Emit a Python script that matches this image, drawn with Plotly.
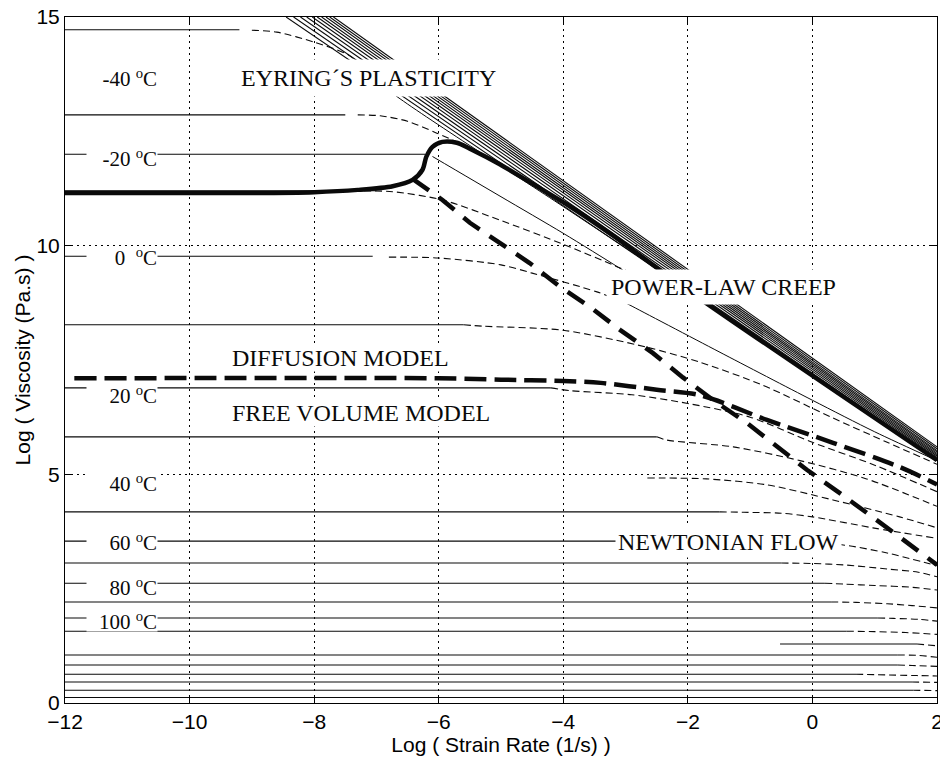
import plotly.graph_objects as go

# ---------------- data ----------------
x_ticks = [-12, -10, -8, -6, -4, -2, 0, 2]
y_ticks = [0, 5, 10, 15]

# Newtonian plateaus (log viscosity) and the log strain rate where the solid plateau stops
plateau_level = [14.72, 12.86, 12.00, 11.20, 9.77, 8.27, 6.89, 5.82, 4.18, 3.54, 3.06,
                 2.62, 2.21, 1.86, 1.57, 1.05, 0.83, 0.63, 0.46, 0.28, 0.12]
plateau_end = [-9.2, -7.5, -6.22, -7.0, -7.06, -5.6, -4.2, -2.5, -1.49, -1.0, -0.5,
               0.2, 0.3, 1.05, 0.55, 1.37, 1.37, 0.7, 1.6, 1.62, 2.0]

# short plateau piece seen only at the right
partial_x = [-0.52, 1.68]
partial_y = [1.29, 1.29]

# dashed shear-thinning branches
b1_x = [-9.0, -8.6, -8.0, -7.45, -7.1]
b1_y = [14.71, 14.67, 14.45, 14.17, 13.75]
b2_x = [-7.3, -6.94, -6.5, -6.03, -5.6, -5.2]
b2_y = [12.86, 12.84, 12.72, 12.46, 12.2, 11.9]
b4_x = [-7.2, -6.74, -5.94, -5.02, -4.0, -3.12, -2.7]
b4_y = [11.2, 11.18, 11.0, 10.56, 10.03, 9.53, 9.28]
b5_x = [-6.8, -6.0, -5.0, -4.5, -3.46, -3.0]
b5_y = [9.75, 9.73, 9.58, 9.4, 8.99, 8.75]
b6_x = [-5.6, -5.3, -4.0, -2.66, -1.8, -0.8, 0.3, 1.2, 2.0]
b6_y = [8.27, 8.24, 8.15, 7.78, 7.45, 6.95, 6.25, 5.7, 5.22]
b7_x = [-4.2, -3.9, -2.9, -2.0, -1.0, 0.0, 1.0, 2.0]
b7_y = [6.89, 6.83, 6.74, 6.55, 6.25, 5.7, 5.2, 4.62]
b8_x = [-2.5, -2.34, -1.27, -0.2, 0.87, 2.0]
b8_y = [5.82, 5.75, 5.6, 5.3, 4.9, 4.3]
b9_x = [-2.65, -1.7, -0.73, 0.33, 1.4, 2.0]
b9_y = [4.92, 4.9, 4.77, 4.44, 4.07, 3.83]
b10_x = [-1.49, -1.1, -0.5, 0.0, 0.97, 2.0]
b10_y = [4.18, 4.17, 4.15, 4.07, 3.83, 3.6]
b11_x = [-1.0, 0.0, 0.52, 1.2, 2.0]
b11_y = [3.54, 3.5, 3.45, 3.28, 3.0]
b12_x = [-0.5, 0.0, 0.5, 1.2, 1.7, 2.0]
b12_y = [3.06, 3.05, 3.02, 2.93, 2.86, 2.76]
b13_x = [0.2, 0.5, 1.0, 1.6, 2.0]
b13_y = [2.62, 2.6, 2.57, 2.53, 2.47]
b14_x = [0.3, 0.7, 1.2, 1.6, 2.0]
b14_y = [2.21, 2.2, 2.17, 2.13, 2.08]
b15_x = [1.05, 1.3, 1.7, 2.0]
b15_y = [1.86, 1.85, 1.83, 1.79]
b16_x = [0.55, 1.0, 1.5, 2.0]
b16_y = [1.57, 1.56, 1.54, 1.5]
b17_x = [1.68, 2.0]
b17_y = [1.29, 1.25]
b18_x = [1.37, 1.7, 2.0]
b18_y = [1.05, 1.04, 1.0]
b19_x = [1.37, 1.6, 2.0]
b19_y = [0.83, 0.82, 0.8]
b20_x = [0.7, 1.68, 2.0]
b20_y = [0.63, 0.6, 0.59]
b21_x = [1.6, 2.0]
b21_y = [0.46, 0.45]
b22_x = [1.62, 2.0]
b22_y = [0.28, 0.27]

# thin solid branches
t1_x = [-7.1, -6.71, -3.94, -2.56, 2.0]
t1_y = [13.75, 13.3, 10.8, 9.55, 5.3]
t3_x = [-6.1, -5.0, -4.0, -3.12, -2.8]
t3_y = [11.95, 11.07, 10.27, 9.53, 9.25]
t5_x = [-3.0, -2.93, -1.5, 0.0, 1.0, 2.0]
t5_y = [8.75, 8.70, 7.68, 6.62, 5.93, 5.3]

# Eyring asymptote bundle: x where each line leaves log(visc)=15, log(visc) at x=2
bundle_x_top = [-8.45, -8.33, -8.22, -8.12, -8.03, -7.95, -7.88, -7.81, -7.75, -7.69]
bundle_y_end = [5.31, 5.34, 5.37, 5.40, 5.43, 5.46, 5.49, 5.52, 5.56, 5.60]

# thick solid curve
thick_x = [-12, -9, -8, -7.3, -6.74, -6.42, -6.26, -6.2, -6.1, -5.94, -5.71, -5.5,
           -5.02, -4.49, -3.94, -3.2, -2.56, -1.7, 2.0]
thick_y = [11.15, 11.15, 11.17, 11.22, 11.3, 11.44, 11.66, 11.94, 12.16, 12.27, 12.25, 12.12,
           11.78, 11.35, 10.9, 10.22, 9.58, 8.74, 5.31]

# thick dashed curves
dashA_x = [-6.42, -5.94, -5.5, -5.02, -4.54, -4.05, -3.57, -3.09, -2.56, -2.08, -1.6,
           -1.05, -0.57, -0.09, 0.44, 0.92, 1.4, 2.0]
dashA_y = [11.46, 11.0, 10.5, 10.06, 9.62, 9.1, 8.66, 8.16, 7.65, 7.12, 6.63,
           6.12, 5.6, 5.1, 4.59, 4.12, 3.63, 3.02]
dashB_x = [-11.85, -6.0, -5.0, -4.0, -3.4, -2.5, -1.8, -0.73, 0.33, 1.4, 2.0]
dashB_y = [7.1, 7.1, 7.07, 7.04, 7.0, 6.85, 6.73, 6.19, 5.69, 5.16, 4.78]

# labels
temp_text = ["-40 <sup>o</sup>C", "-20 <sup>o</sup>C", "0\u00a0\u00a0<sup>o</sup>C", "20 <sup>o</sup>C",
             "40 <sup>o</sup>C", "60 <sup>o</sup>C", "80 <sup>o</sup>C", "100 <sup>o</sup>C"]
temp_y = [13.67, 11.92, 9.75, 6.73, 4.81, 3.52, 2.54, 1.79]
model_text = ["EYRING\u00b4S PLASTICITY", "POWER-LAW CREEP", "DIFFUSION MODEL",
              "FREE VOLUME MODEL", "NEWTONIAN FLOW"]
model_x = [-7.13, -1.42, -7.57, -7.24, -1.34]
model_y = [13.67, 9.1, 7.54, 6.34, 3.52]

# ---------------- figure ----------------
INK = "#0a0a0a"
fig = go.Figure()

def add_line(x, y, width=1.0, dash="solid", shape="spline", color=INK):
    fig.add_trace(go.Scatter(x=x, y=y, mode="lines", hoverinfo="skip",
                             line=dict(color=color, width=width, dash=dash,
                                       shape=shape, smoothing=0.8)))

for lvl, xe in zip(plateau_level, plateau_end):
    add_line([-12, xe], [lvl, lvl], width=1.1, shape="linear")
add_line(partial_x, partial_y, width=1.1, shape="linear")

dashed = [(b1_x, b1_y), (b2_x, b2_y), (b4_x, b4_y), (b5_x, b5_y), (b6_x, b6_y),
          (b7_x, b7_y), (b8_x, b8_y), (b9_x, b9_y), (b10_x, b10_y), (b11_x, b11_y),
          (b12_x, b12_y), (b13_x, b13_y), (b14_x, b14_y), (b15_x, b15_y), (b16_x, b16_y),
          (b17_x, b17_y), (b18_x, b18_y), (b19_x, b19_y), (b20_x, b20_y), (b21_x, b21_y),
          (b22_x, b22_y)]
for bx, by in dashed:
    add_line(bx, by, width=1.1, dash="7px,4px")

for tx, ty in [(t1_x, t1_y), (t3_x, t3_y), (t5_x, t5_y)]:
    add_line(tx, ty, width=1.0)

for xt, ye in zip(bundle_x_top, bundle_y_end):
    add_line([xt, 2.0], [15.0, ye], width=1.1, shape="linear")

add_line(thick_x, thick_y, width=4.5, shape="spline")
add_line(dashA_x, dashA_y, width=4.5, dash="20px,12px", shape="linear")
add_line(dashB_x, dashB_y, width=4.5, dash="22px,8px", shape="spline")

SERIF = "Liberation Serif, Times New Roman, serif"
SANS = "Liberation Sans, Arial, sans-serif"
for txt, yy in zip(temp_text, temp_y):
    fig.add_annotation(x=-10.5, y=yy, text=txt, showarrow=False, xanchor="right",
                       yanchor="middle", width=70, height=20, align="right",
                       bgcolor="white", borderpad=0,
                       font=dict(family=SERIF, size=21, color=INK))

pads = [5, 4, 0, 0, 2]
for txt, xx, yy, pd in zip(model_text, model_x, model_y, pads):
    fig.add_annotation(x=xx, y=yy, text=txt, showarrow=False, xanchor="center",
                       yanchor="middle", bgcolor="white", borderpad=pd,
                       font=dict(family=SERIF, size=24, color=INK))

axis_common = dict(showline=True, linecolor="black", linewidth=1, mirror="ticks",
                   ticks="inside", ticklen=7, tickcolor="black", showgrid=True,
                   gridcolor="black", gridwidth=1, griddash="2px,4px", zeroline=False,
                   automargin=False, ticklabeloverflow="allow",
                   tickfont=dict(family=SANS, size=21, color="black"))

fig.update_xaxes(range=[-12, 2], tickvals=x_ticks,
                 title=dict(text="Log ( Strain Rate (1/s) )", standoff=3,
                            font=dict(family=SANS, size=21, color="black")),
                 **axis_common)
fig.update_yaxes(range=[0, 15], tickvals=y_ticks,
                 title=dict(text="Log ( Viscosity (Pa.s) )", standoff=0,
                            font=dict(family=SANS, size=21, color="black")),
                 **axis_common)

# the page body adds an 8 px offset, so the figure is 940 x 753 and the margins are shifted
fig.update_layout(width=940, height=753, margin=dict(l=57, r=11, t=9, b=58),
                  plot_bgcolor="white", paper_bgcolor="white", showlegend=False)

fig.write_html("out.html")
